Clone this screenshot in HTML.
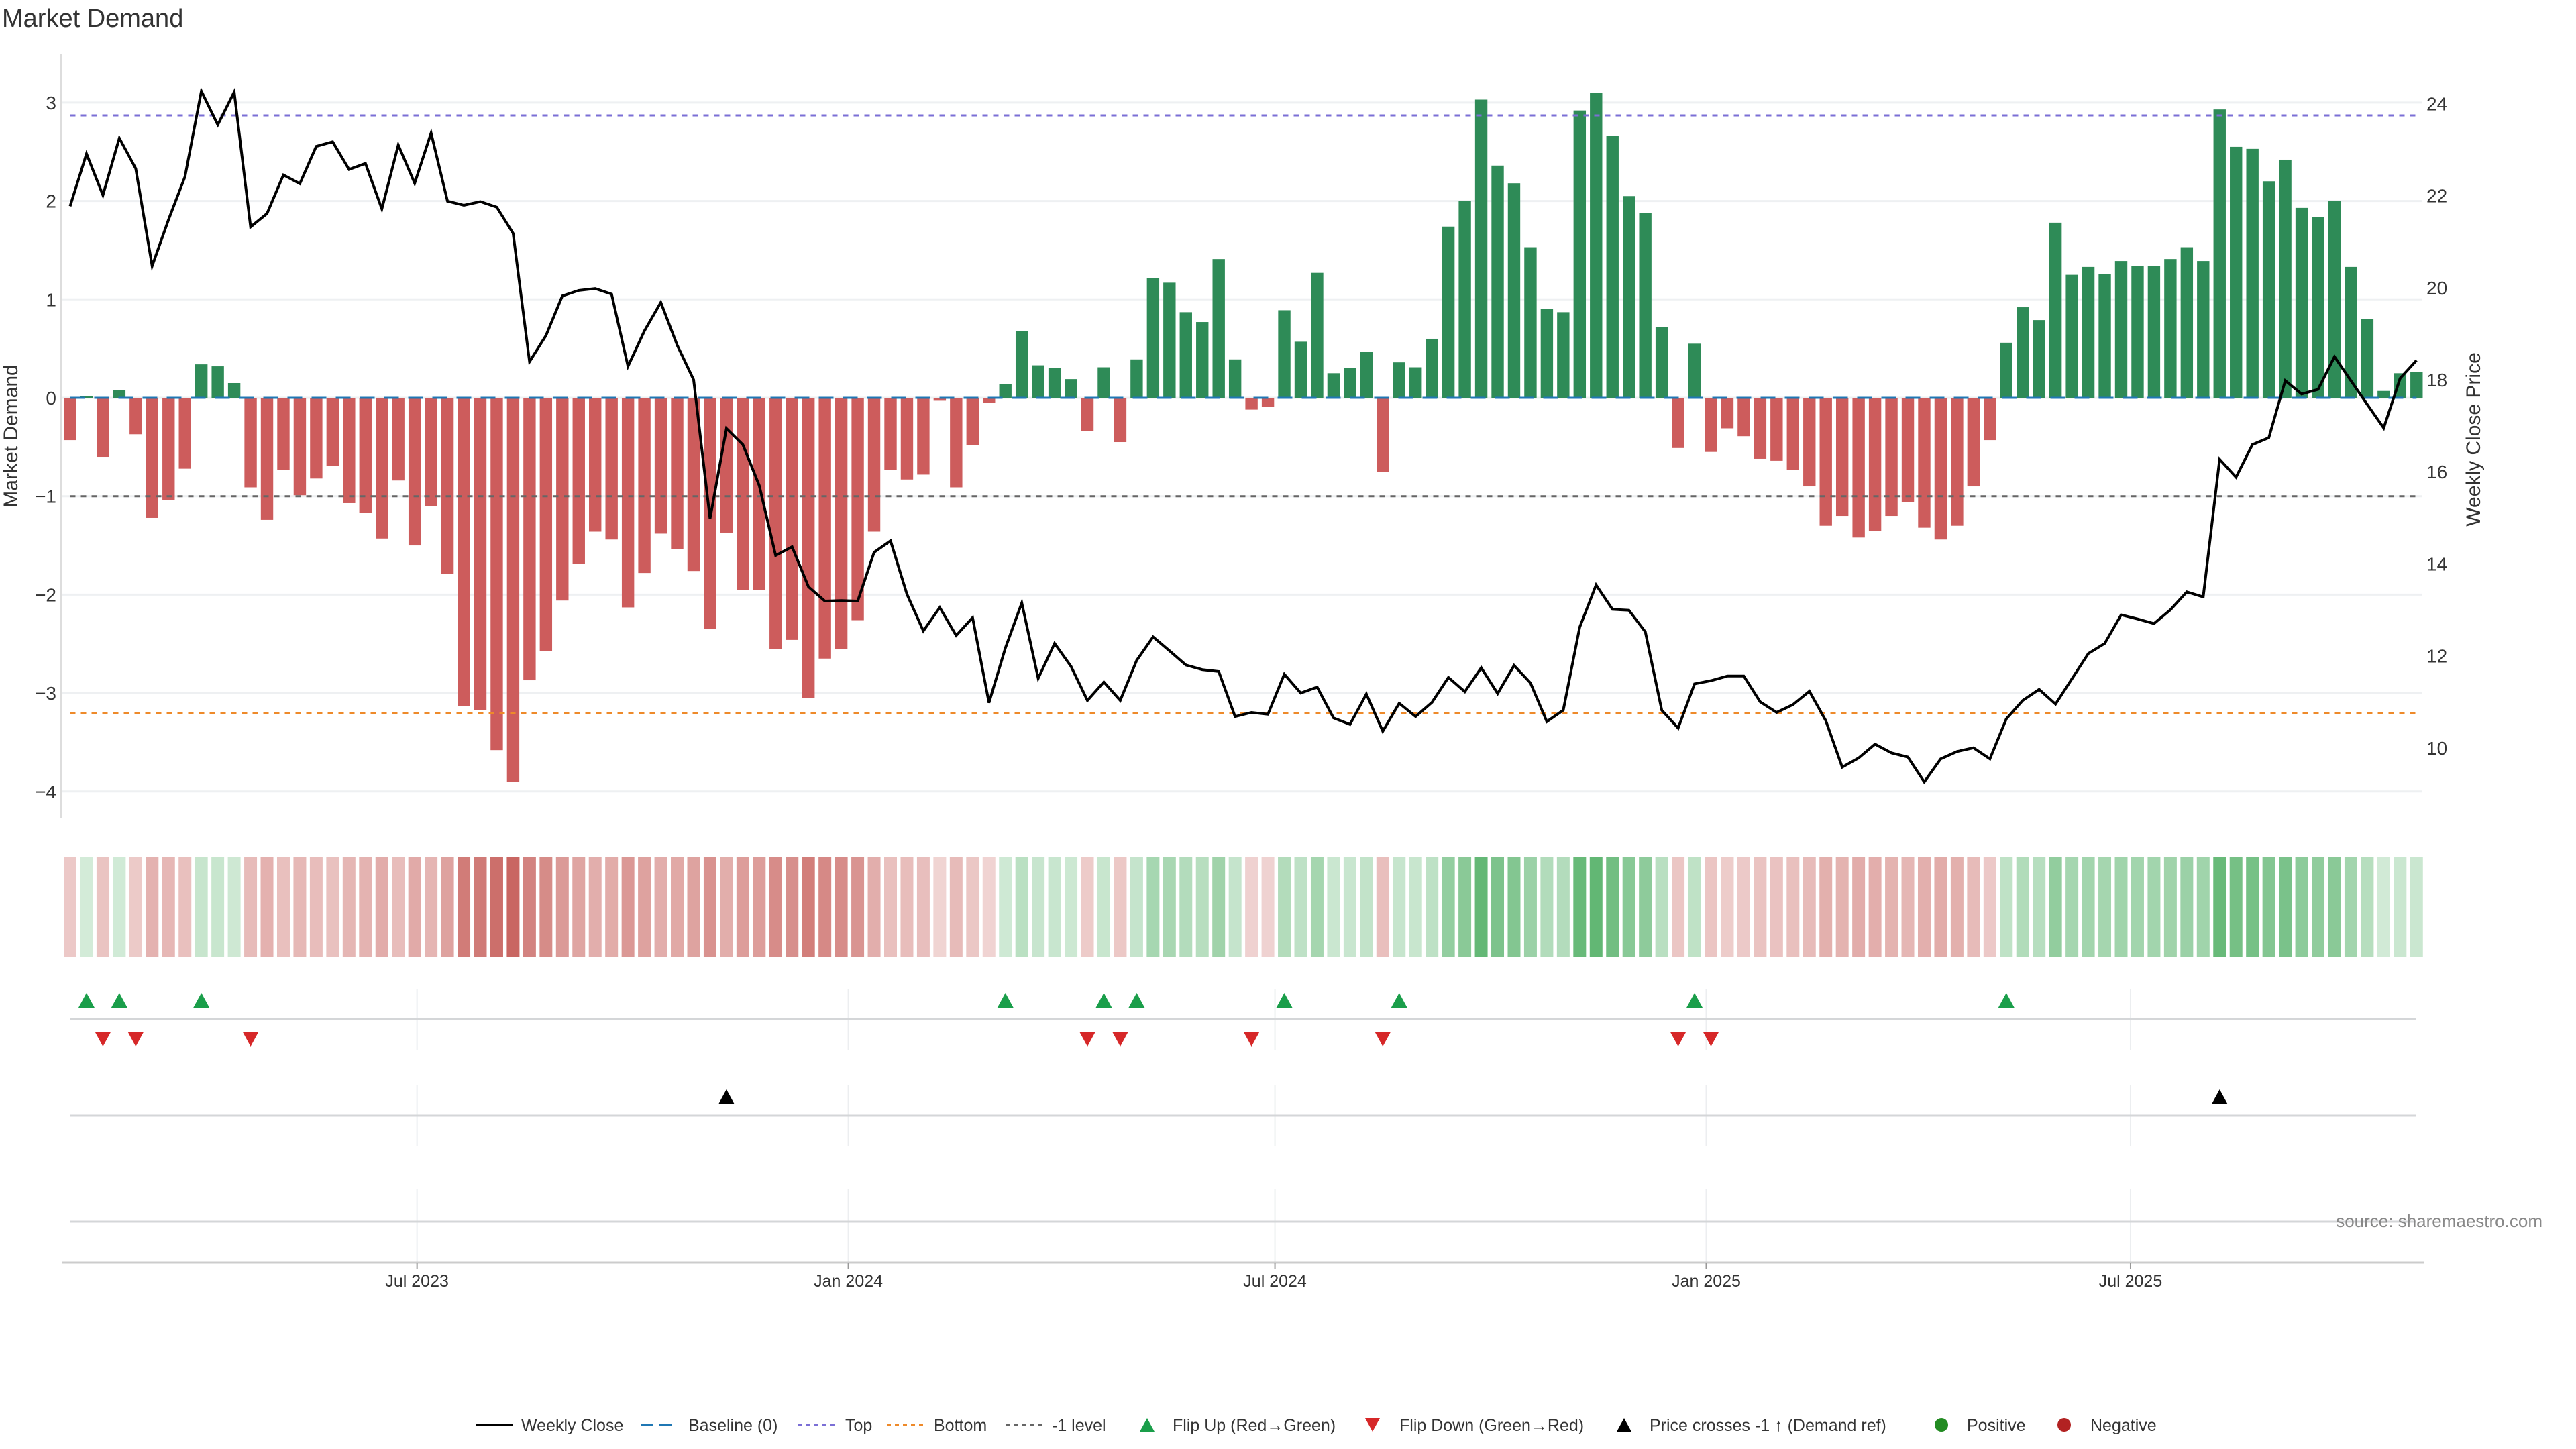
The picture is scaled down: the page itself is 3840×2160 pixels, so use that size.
<!DOCTYPE html>
<html><head><meta charset="utf-8"><style>
html,body{margin:0;padding:0;background:#fff;}
svg{display:block;font-family:"Liberation Sans","DejaVu Sans",sans-serif;}
</style></head><body>
<svg id="chart" width="3840" height="2160" viewBox="0 0 3840 2160" xmlns="http://www.w3.org/2000/svg">
<text x="3" y="40" font-size="38" fill="#333">Market Demand</text>
<g id="grid"></g><g id="bars"></g><g id="refs"></g><g id="line"></g><g id="axes"></g><g id="heat"></g><g id="markers"></g><g id="legend"></g>
<text x="3790" y="1829" font-size="26" fill="#888" text-anchor="end">source: sharemaestro.com</text>
</svg>
<script>
const demand = [-0.43,0.02,-0.6,0.08,-0.37,-1.22,-1.04,-0.72,0.34,0.32,0.15,-0.91,-1.24,-0.73,-0.99,-0.82,-0.69,-1.07,-1.17,-1.43,-0.84,-1.5,-1.1,-1.79,-3.13,-3.17,-3.58,-3.9,-2.87,-2.57,-2.06,-1.69,-1.36,-1.44,-2.13,-1.78,-1.38,-1.54,-1.76,
-2.35,-1.37,-1.95,-1.95,-2.55,-2.46,-3.05,-2.65,-2.55,-2.26,-1.36,-0.73,-0.83,-0.78,-0.03,-0.91,-0.48,-0.05,0.14,0.68,0.33,0.3,0.19,-0.34,0.31,-0.45,0.39,1.22,1.17,0.87,0.77,1.41,0.39,-0.12,-0.09,0.89,0.57,
1.27,0.25,0.3,0.47,-0.75,0.36,0.31,0.6,1.74,2.0,3.03,2.36,2.18,1.53,0.9,0.87,2.92,3.1,2.66,2.05,1.88,0.72,-0.51,0.55,-0.55,-0.31,-0.39,-0.62,-0.64,-0.73,-0.9,-1.3,-1.2,-1.42,-1.35,-1.2,-1.06,-1.32,
-1.44,-1.3,-0.9,-0.43,0.56,0.92,0.79,1.78,1.25,1.33,1.26,1.39,1.34,1.34,1.41,1.53,1.39,2.93,2.55,2.53,2.2,2.42,1.93,1.84,2.0,1.33,0.8,0.07,0.25,0.26];
const price = [21.77,22.91,22.01,23.25,22.59,20.47,21.48,22.41,24.27,23.54,24.25,21.32,21.61,22.45,22.26,23.07,23.17,22.57,22.70,21.71,23.10,22.27,23.36,21.88,21.79,21.87,21.75,21.18,18.39,18.96,19.82,19.94,19.98,19.86,18.29,19.06,19.68,18.75,18.00,
14.98,16.94,16.59,15.70,14.18,14.37,13.50,13.19,13.20,13.19,14.25,14.50,13.34,12.54,13.05,12.44,12.83,10.98,12.17,13.15,11.51,12.27,11.77,11.03,11.43,11.03,11.90,12.41,12.11,11.80,11.70,11.66,10.68,10.77,10.73,11.60,11.19,
11.32,10.65,10.51,11.17,10.36,10.97,10.68,10.99,11.53,11.22,11.74,11.18,11.79,11.41,10.57,10.82,12.62,13.54,13.01,12.99,12.52,10.82,10.43,11.39,11.46,11.56,11.56,11.00,10.77,10.94,11.23,10.59,9.58,9.78,10.08,9.89,9.80,9.26,
9.76,9.92,10.00,9.76,10.63,11.03,11.27,10.95,11.50,12.05,12.27,12.89,12.80,12.70,13.00,13.39,13.28,16.27,15.88,16.59,16.74,17.98,17.69,17.79,18.50,17.98,17.46,16.95,18.03,18.42];
const leftTicks = [3,2,1,0,-1,-2,-3,-4];
const rightTicks = [24,22,20,18,16,14,12,10];
const refLevels = [2.87,0,-1,-3.2];
const dateTicks = ["2023-07-01","2024-01-01","2024-07-01","2025-01-01","2025-07-01"];
const dateLabels = ["Jul 2023","Jan 2024","Jul 2024","Jan 2025","Jul 2025"];
const startDate = "2023-02-03";

const NS="http://www.w3.org/2000/svg";
function mk(parent,tag,attrs){const e=document.createElementNS(NS,tag);for(const k in attrs)e.setAttribute(k,attrs[k]);parent.appendChild(e);return e;}
const X0=104.5, DX=24.46;
const xi=i=>X0+i*DX;
const xd=s=>X0+(Date.parse(s)-Date.parse(startDate))/86400000*DX/7;
const yL=v=>593-146.7*v;
const yR=p=>154.4+(24-p)*68.6;
const G=id=>document.getElementById(id);

leftTicks.forEach(t=>{
  const l=mk(G('grid'),'line',{x1:91,x2:3610,y1:yL(t),y2:yL(t),stroke:'#eef0f2','stroke-width':3});
  
  
  const tx=mk(G('axes'),'text',{x:84,y:yL(t)+10,'font-size':28,fill:'#333','text-anchor':'end'});
  tx.textContent=t<0?'\u2212'+(-t):String(t);
  
  
});
rightTicks.forEach(t=>{
  const tx=mk(G('axes'),'text',{x:3617,y:yR(t)+10,'font-size':28,fill:'#333'});
  tx.textContent=String(t);
  
  
});
let ax=mk(G('axes'),'line',{x1:91,x2:91,y1:80,y2:1220,stroke:'#ddd','stroke-width':2});


let yt=mk(G('axes'),'text',{x:0,y:0,'font-size':30,fill:'#333','text-anchor':'middle',transform:'translate(26,650) rotate(-90)'});
yt.textContent='Market Demand';


yt=mk(G('axes'),'text',{x:0,y:0,'font-size':30,fill:'#333','text-anchor':'middle',transform:'translate(3697,655) rotate(-90)'});
yt.textContent='Weekly Close Price';



demand.forEach((v,i)=>{
  const y=Math.min(yL(v),yL(0)), h=Math.abs(yL(v)-yL(0));
  const r=mk(G('bars'),'rect',{x:xi(i)-9.2,y:y,width:18.4,height:Math.max(h,0.5),fill:v>=0?'#2e8b57':'#cd5c5c'});
  
  
});
const refCol=['#7b6fd6','#1f77b4','#666','#ee8a2a'];
const refDash=['8,8','22,14','8,8','8,8'];
refLevels.forEach((lv,k)=>{
  const l=mk(G('refs'),'line',{x1:xi(0),x2:xi(demand.length-1),y1:yL(lv),y2:yL(lv),stroke:refCol[k],'stroke-width':3,'stroke-dasharray':refDash[k]});
  
  
});
const pl=mk(G('line'),'polyline',{points:price.map((p,i)=>xi(i)+','+yR(p)).join(' '),fill:'none',stroke:'#000','stroke-width':4,'stroke-linejoin':'miter'});



demand.forEach((v,i)=>{
  const a=0.25+0.65*Math.min(Math.abs(v)/(v>=0?3.1:3.9),1);
  const base=v>=0?[80,175,100]:[195,85,80];
  const c=base.map(b=>Math.round(255+(b-255)*a));
  const r=mk(G('heat'),'rect',{x:xi(i)-9.5,y:1278,width:19,height:148,fill:'rgb('+c.join(',')+')'});
  
  
});

[[1475,1565,1519],[1617,1708,1663],[1773,1882,1821]].forEach((p,k)=>{
  dateTicks.forEach(d=>{
    const l=mk(G('axes'),'line',{x1:xd(d),x2:xd(d),y1:p[0],y2:p[1],stroke:'#eceef0','stroke-width':2});
    
    
  });
  const l=mk(G('axes'),'line',{x1:104,x2:3602,y1:p[2],y2:p[2],stroke:'#d4d6d8','stroke-width':3});
  
  
});
ax=mk(G('axes'),'line',{x1:93,x2:3614,y1:1882,y2:1882,stroke:'#ccc','stroke-width':3});


dateTicks.forEach((d,k)=>{
  const t=mk(G('axes'),'line',{x1:xd(d),x2:xd(d),y1:1882,y2:1892,stroke:'#999','stroke-width':2});
  
  
  const tx=mk(G('axes'),'text',{x:xd(d),y:1918,'font-size':25,fill:'#333','text-anchor':'middle'});
  tx.textContent=dateLabels[k];
  
  
});

function tri(x,y,up,col,name){
  const pts=up?[[x-12,y+11],[x+12,y+11],[x,y-11]]:[[x-12,y-11],[x+12,y-11],[x,y+11]];
  const t=mk(G('markers'),'polygon',{points:pts.map(p=>p.join(',')).join(' '),fill:col});
  
  
}
const lvlPrice=24-(yL(-1)-154.4)/68.6;
for(let i=1;i<demand.length;i++){
  if(demand[i]>=0&&demand[i-1]<0)tri(xi(i),1491,true,'#1a9e4a','flip-up-marker');
  if(demand[i]<0&&demand[i-1]>=0)tri(xi(i),1549,false,'#d62728','flip-down-marker');
  if(price[i]>=lvlPrice&&price[i-1]<lvlPrice)tri(xi(i),1635,true,'#000','price-cross-marker');
}

const L=G('legend'), LY=2124;
function ltxt(x,s,name){const t=mk(L,'text',{x:x,y:LY+9,'font-size':25,fill:'#333'});t.textContent=s;}
function lline(x,col,dash,name){const l=mk(L,'line',{x1:x,x2:x+54,y1:LY,y2:LY,stroke:col,'stroke-width':dash?3:4,'stroke-dasharray':dash||'none'});}
lline(710,'#000',null,'legend-weekly-close-swatch');ltxt(777,'Weekly Close','legend-weekly-close');
lline(955,'#1f77b4','18,10','legend-baseline-swatch');ltxt(1026,'Baseline (0)','legend-baseline');
lline(1190,'#7b6fd6','6,6','legend-top-swatch');ltxt(1260,'Top','legend-top');
lline(1322,'#ee8a2a','6,6','legend-bottom-swatch');ltxt(1392,'Bottom','legend-bottom');
lline(1500,'#666','6,6','legend-minus-one-swatch');ltxt(1568,'-1 level','legend-minus-one');
function ltri(x,up,col,name){const pts=up?[[x-11,LY+10],[x+11,LY+10],[x,LY-10]]:[[x-11,LY-10],[x+11,LY-10],[x,LY+10]];const t=mk(L,'polygon',{points:pts.map(p=>p.join(',')).join(' '),fill:col});}
ltri(1710,true,'#1a9e4a','legend-flip-up-swatch');ltxt(1748,'Flip Up (Red\u2192Green)','legend-flip-up');
ltri(2046,false,'#d62728','legend-flip-down-swatch');ltxt(2086,'Flip Down (Green\u2192Red)','legend-flip-down');
ltri(2421,true,'#000','legend-price-cross-swatch');ltxt(2459,'Price crosses -1 \u2191 (Demand ref)','legend-price-cross');
let dc=mk(L,'circle',{cx:2894,cy:LY,r:10,fill:'#228b22'});
ltxt(2932,'Positive','legend-positive');
dc=mk(L,'circle',{cx:3077,cy:LY,r:10,fill:'#b22222'});
ltxt(3116,'Negative','legend-negative');
</script>
</body></html>
